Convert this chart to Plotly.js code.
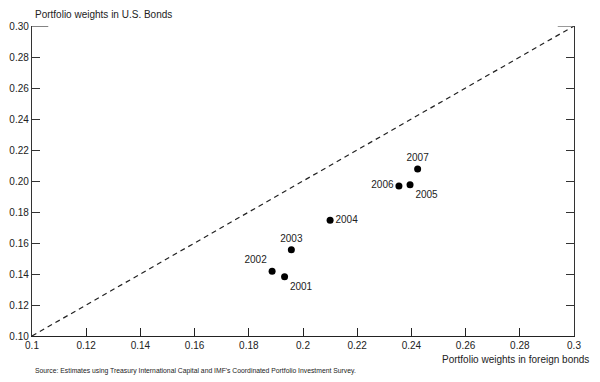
<!DOCTYPE html>
<html>
<head>
<meta charset="utf-8">
<script src="https://cdn.plot.ly/plotly-3.0.1.min.js"></script>
<style>html,body{margin:0;padding:0;background:#fff;}#chart{width:600px;height:382px;}</style>
</head>
<body>
<div id="chart"></div>
<script>
const years = ["2001","2002","2003","2004","2005","2006","2007"];
const foreignWeights = [0.1932, 0.1886, 0.1957, 0.2100, 0.2395, 0.2354, 0.2423];
const usWeights = [0.1383, 0.1417, 0.1557, 0.1746, 0.1976, 0.1968, 0.2077];
const labelPositions = ["bottom right","top left","top center","middle right","bottom right","middle left","top center"];
const axisRange = [0.1, 0.3];
const xTicks = [0.1,0.12,0.14,0.16,0.18,0.2,0.22,0.24,0.26,0.28,0.3];
const xTickText = ["0.1","0.12","0.14","0.16","0.18","0.2","0.22","0.24","0.26","0.28","0.3"];
const yTicks = [0.10,0.12,0.14,0.16,0.18,0.20,0.22,0.24,0.26,0.28,0.30];

const font = {family: "Liberation Sans, Arial, sans-serif", size: 10, color: "#222"};

const traces = [
  {
    x: axisRange, y: axisRange, mode: "lines", type: "scatter",
    line: {color: "#222", width: 1.2, dash: "5px,4px"}, hoverinfo: "skip"
  },
  {
    x: foreignWeights, y: usWeights, text: years, mode: "markers+text", type: "scatter",
    textposition: labelPositions, textfont: font,
    marker: {color: "#000", size: 7}, cliponaxis: false
  }
];

const layout = {
  width: 600, height: 382,
  margin: {l: 32, r: 26, t: 26, b: 46},
  paper_bgcolor: "#fff", plot_bgcolor: "#fff",
  showlegend: false,
  font: font,
  xaxis: {
    range: axisRange, tickvals: xTicks, ticktext: xTickText,
    ticks: "inside", ticklen: 8, tickcolor: "#222", tickwidth: 1,
    showline: true, linecolor: "#222", linewidth: 1.2,
    showgrid: false, zeroline: false, tickfont: font, mirror: false
  },
  yaxis: {
    range: axisRange, tickvals: yTicks, tickformat: ".2f",
    ticks: "inside", ticklen: 8, tickcolor: "#333", tickwidth: 1,
    showline: true, linecolor: "#333", linewidth: 1.2, mirror: "ticks",
    showgrid: false, zeroline: false, tickfont: font
  },
  shapes: [
    {type: "line", xref: "paper", yref: "y", x0: 0, x1: 0.03, y0: 0.3, y1: 0.3, line: {color: "#333", width: 1.2}},
    {type: "line", xref: "paper", yref: "y", x0: 0.97, x1: 1, y0: 0.3, y1: 0.3, line: {color: "#555", width: 1.2}}
  ],
  annotations: [
    {text: "Portfolio weights in U.S. Bonds", xref: "paper", yref: "paper", x: 0.002, y: 1.012,
     xanchor: "left", yanchor: "bottom", showarrow: false, font: font},
    {text: "Portfolio weights in foreign bonds", xref: "paper", yref: "paper", x: 1.032, y: -0.05,
     xanchor: "right", yanchor: "top", showarrow: false, font: font},
    {text: "Source: Estimates using Treasury International Capital and IMF's Coordinated Portfolio Investment Survey.",
     xref: "paper", yref: "paper", x: 0.002, y: -0.095, xanchor: "left", yanchor: "top", showarrow: false,
     font: {family: "Liberation Sans, Arial, sans-serif", size: 6.8, color: "#222"}}
  ]
};

Plotly.newPlot("chart", traces, layout, {staticPlot: true, displayModeBar: false});
</script>
</body>
</html>
